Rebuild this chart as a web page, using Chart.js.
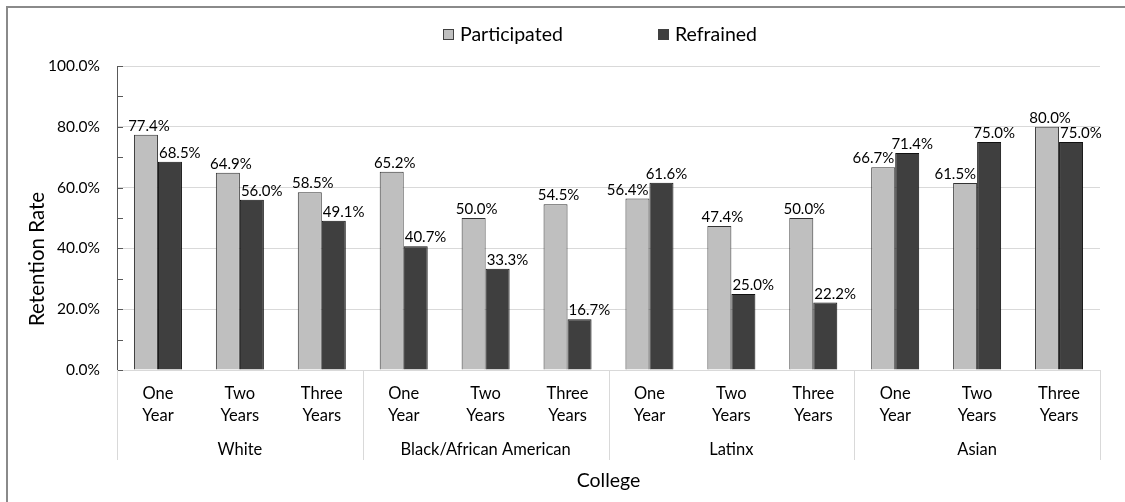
<!DOCTYPE html>
<html>
<head>
<meta charset="utf-8">
<script src="https://cdn.jsdelivr.net/npm/chart.js@4.4.1/dist/chart.umd.min.js"></script>
<style>
  html, body { margin: 0; padding: 0; background: #fff; overflow: hidden; }
  #wrap { position: relative; width: 1125px; height: 502px; overflow: hidden; }
  #frame { position: absolute; left: 6px; top: 6px; width: 1119px; height: 496px;
           border-top: 2px solid #8a8a8a; border-left: 2px solid #8a8a8a; box-sizing: border-box; }
  canvas { position: absolute; left: 0; top: 0; }
</style>
</head>
<body>
<div id="wrap">
  <div id="frame"></div>
  <canvas id="c" width="1125" height="502"></canvas>
</div>
<script>
// Retention rates (%) by group and time span
const groups = ['White', 'Black/African American', 'Latinx', 'Asian'];
const periods = [['One', 'Year'], ['Two', 'Years'], ['Three', 'Years']];
const seriesNames = ['Participated', 'Refrained'];
const participated = [77.4, 64.9, 58.5, 65.2, 50.0, 54.5, 56.4, 47.4, 50.0, 66.7, 61.5, 80.0];
const refrained    = [68.5, 56.0, 49.1, 40.7, 33.3, 16.7, 61.6, 25.0, 22.2, 71.4, 75.0, 75.0];
const yTicks = [0, 20, 40, 60, 80, 100];
const yTitle = 'Retention Rate';
const xTitle = 'College';

const FONT = 'Lato, "Open Sans", sans-serif';
const TEXT = '#000';
const GRID = '#d9d9d9';
const AXIS = '#595959';
const colors = ['#bfbfbf', '#3f3f3f'];

const categories = groups.flatMap(() => periods);
const pct = v => v.toFixed(1) + '%';

// Group captions, separators below the axis, and axis titles
const groupAxis = {
  id: 'groupAxis',
  afterDraw(chart) {
    const { ctx, chartArea } = chart;
    const x = chart.scales.x;
    const per = periods.length;
    ctx.save();
    ctx.strokeStyle = GRID;
    ctx.lineWidth = 1;
    for (let g = 0; g <= groups.length; g++) {
      const edge = g === 0
        ? chartArea.left
        : g === groups.length ? chartArea.right
        : (x.getPixelForValue(g * per - 1) + x.getPixelForValue(g * per)) / 2;
      const px = Math.round(edge) + 0.5;
      ctx.beginPath();
      ctx.moveTo(px, chartArea.bottom);
      ctx.lineTo(px, chartArea.bottom + 90);
      ctx.stroke();
    }
    ctx.fillStyle = TEXT;
    ctx.font = '16.5px ' + FONT;
    ctx.textAlign = 'center';
    ctx.textBaseline = 'middle';
    groups.forEach((name, g) => {
      const cx = (x.getPixelForValue(g * per) + x.getPixelForValue(g * per + per - 1)) / 2;
      ctx.fillText(name, cx, chartArea.bottom + 80);
    });
    ctx.font = '19.5px ' + FONT;
    ctx.fillText(xTitle, (chartArea.left + chartArea.right) / 2, chartArea.bottom + 111);
    ctx.translate(37, 259);
    ctx.rotate(-Math.PI / 2);
    ctx.font = '20.5px ' + FONT;
    ctx.fillText(yTitle, 0, 0);
    ctx.restore();
  }
};

// Inward tick marks every 10% on the value axis
const innerTicks = {
  id: 'innerTicks',
  afterDatasetsDraw(chart) {
    const { ctx, chartArea } = chart;
    const y = chart.scales.y;
    ctx.save();
    ctx.strokeStyle = AXIS;
    ctx.lineWidth = 1;
    for (let v = y.min; v <= y.max; v += 10) {
      const py = Math.round(y.getPixelForValue(v)) + 0.5;
      ctx.beginPath();
      ctx.moveTo(chartArea.left, py);
      ctx.lineTo(chartArea.left + 6, py);
      ctx.stroke();
    }
    ctx.restore();
  }
};

// Value captions above each bar
const valueLabels = {
  id: 'valueLabels',
  afterDatasetsDraw(chart) {
    const { ctx } = chart;
    const m0 = chart.getDatasetMeta(0).data;
    const m1 = chart.getDatasetMeta(1).data;
    ctx.save();
    ctx.fillStyle = TEXT;
    ctx.font = '15px ' + FONT;
    ctx.textBaseline = 'alphabetic';
    participated.forEach((p, i) => {
      const r = refrained[i];
      const g = m0[i], d = m1[i];
      if (r > p) {
        ctx.textAlign = 'right';
        ctx.fillText(pct(p), g.x + g.width / 2 - 1, g.y - 4);
        ctx.textAlign = 'center';
        ctx.fillText(pct(r), d.x + 5, d.y - 4);
      } else {
        ctx.textAlign = 'center';
        ctx.fillText(pct(p), g.x + 3, g.y - 4);
        ctx.textAlign = 'left';
        ctx.fillText(pct(r), d.x - d.width / 2 + 1, d.y - 4);
      }
    });
    ctx.restore();
  }
};

// Series key across the top
const seriesKey = {
  id: 'seriesKey',
  afterDraw(chart) {
    const { ctx } = chart;
    const starts = [443, 658];
    ctx.save();
    ctx.font = '19.5px ' + FONT;
    ctx.textBaseline = 'middle';
    ctx.textAlign = 'left';
    chart.data.datasets.forEach((ds, i) => {
      const x0 = starts[i];
      ctx.fillStyle = ds.backgroundColor;
      ctx.fillRect(x0, 29, 11, 11);
      ctx.strokeStyle = '#404040';
      ctx.lineWidth = 1;
      ctx.strokeRect(x0 + 0.5, 29.5, 10, 10);
      ctx.fillStyle = TEXT;
      ctx.fillText(ds.label, x0 + 17, 35);
    });
    ctx.restore();
  }
};

new Chart(document.getElementById('c'), {
  type: 'bar',
  data: {
    labels: categories,
    datasets: [
      { label: seriesNames[0], data: participated, backgroundColor: colors[0],
        borderColor: '#333', borderWidth: 1, borderSkipped: 'bottom' },
      { label: seriesNames[1], data: refrained, backgroundColor: colors[1],
        borderColor: '#111', borderWidth: 1, borderSkipped: 'bottom' }
    ]
  },
  options: {
    responsive: false,
    devicePixelRatio: 1,
    animation: false,
    layout: { padding: { left: 0, right: 25, top: 66, bottom: 0 } },
    datasets: { bar: { barPercentage: 1, categoryPercentage: 0.586 } },
    plugins: { legend: { display: false }, tooltip: { enabled: false } },
    scales: {
      y: {
        min: 0, max: 100,
        afterFit: a => { a.width = 117; },
        afterBuildTicks: a => { a.ticks = yTicks.map(v => ({ value: v })); },
        ticks: { callback: v => pct(v), padding: 17, color: TEXT, font: { family: FONT, size: 15.5 } },
        grid: { color: GRID, drawTicks: false },
        border: { color: AXIS, width: 1 }
      },
      x: {
        afterFit: a => { a.height = 132; },
        ticks: { color: TEXT, padding: 13, font: { family: FONT, size: 16.5, lineHeight: 1.33 }, maxRotation: 0, autoSkip: false },
        grid: { display: false, drawTicks: false },
        border: { color: GRID, width: 1 }
      }
    }
  },
  plugins: [groupAxis, innerTicks, valueLabels, seriesKey]
});
</script>
</body>
</html>
